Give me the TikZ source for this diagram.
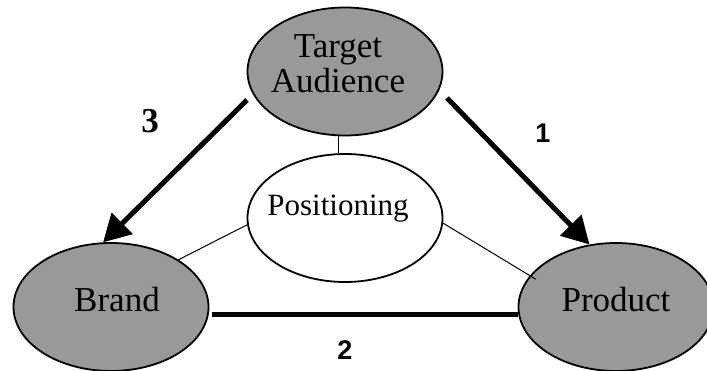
\documentclass[tikz,border=0pt]{standalone}
\usepackage{fontspec}
\setmainfont{Liberation Serif}
\newfontfamily\labelsans{Liberation Sans}
\usetikzlibrary{shapes.geometric,arrows.meta}
\definecolor{ovalgray}{RGB}{153,153,153}
\begin{document}
\begin{tikzpicture}[x=1pt,y=-1pt,
  oval/.style={ellipse,draw=black,line width=1.8pt,inner sep=0pt,
    minimum width=195pt,minimum height=128pt},
  filled/.style={oval,fill=ovalgray},
  caption/.style={inner sep=0pt,anchor=base,font=\fontsize{35}{37}\selectfont},
  link/.style={line width=1pt},
  flow/.style={line width=5pt,-{Triangle[length=27pt,width=29pt]}},
  bar/.style={line width=5pt},
  stepno/.style={inner sep=0pt,font=\labelsans\bfseries\fontsize{27}{29}\selectfont}]
\useasboundingbox (0,0) rectangle (707,371);
\clip (0,0) rectangle (707,371);

% the four ovals
\node[filled] (ta) at (345,71.5) {};
\node[oval,fill=white] (pos) at (345,218) {};
\node[filled] (brand) at (111,307) {};
\node[filled] (prod) at (616,307) {};

% thin links from Positioning
\draw[link] ([xshift=-7pt]ta.south) -- ([xshift=-7pt]pos.north);
\draw[link] (pos.184) -- (brand.35);
\draw[link,shorten >=-7pt] (pos.357) -- (prod.160);

% numbered flows
\coordinate (a3) at (247,100);
\coordinate (a1) at (447,98);
\draw[flow] (a3) -- (brand.97);
\draw[flow] (a1) -- (prod.113);
\draw[bar,shorten <=3pt] ([yshift=-8pt]brand.east) -- ([yshift=-8pt]prod.west);

% oval captions
\node[caption] (ta-l1) at (338,58) {Target};
\node[caption] (ta-l2) at (338,93) {Audience};
\node[caption,font=\fontsize{31}{33}\selectfont] (pos-t) at (338,216) {Positioning};
\node[caption] (brand-t) at (117,312) {Brand};
\node[caption] (prod-t) at (616,312) {Product};

% step numbers
\node[stepno] (n1) at (543,133) {1};
\node[stepno] (n2) at (345,350) {2};
\node[inner sep=0pt,font=\bfseries\fontsize{35}{37}\selectfont] (n3) at (150,121) {3};
\end{tikzpicture}
\end{document}
